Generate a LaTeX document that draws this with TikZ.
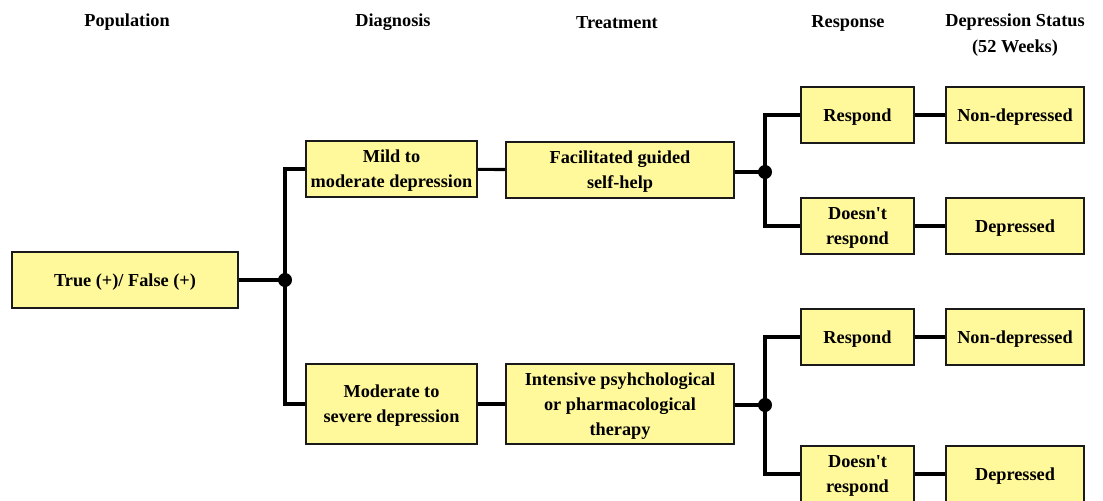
\documentclass[tikz,border=0pt]{standalone}
\usepackage{fontspec}
\setmainfont{Liberation Serif}
\usetikzlibrary{positioning, calc}
\definecolor{boxYellow}{HTML}{FFF99C}
\definecolor{boxLine}{HTML}{1A1A1A}

\tikzset{
  box/.style={draw=boxLine, line width=1.4pt, fill=boxYellow, align=center,
    minimum height=1.4cm, inner sep=2pt, text depth=0pt,
    font=\fontsize{13}{17.8}\selectfont\bfseries},
  popbox/.style={box, minimum width=5.65cm},
  diagbox/.style={box, minimum width=4.275cm},
  treatbox/.style={box, minimum width=5.7cm},
  respbox/.style={box, minimum width=2.825cm},
  statbox/.style={box, minimum width=3.45cm},
  tall/.style={minimum height=2cm},
  head/.style={align=center, font=\fontsize{13}{18.5}\selectfont\bfseries},
  link/.style={line width=2.2pt, draw=black},
  joint/.style={fill=black, circle, inner sep=0pt, minimum size=0.35cm}
}

\begin{document}
\begin{tikzpicture}[x=0.025cm, y=-0.025cm]
  \useasboundingbox (0,0) rectangle (1103,500);
  % titulos de columna
  \node[head] (hPop) at (127,22) {Population};
  \node[head] (hDiag) at (393,22) {Diagnosis};
  \node[head] (hTreat) at (617,23) {Treatment};
  \node[head] (hResp) at (848,23) {Response};
  \node[head] (hStat) at (1015,35) {Depression Status\\(52 Weeks)};
  % poblacion
  \node[popbox] (pop) at (125,280) {True (+)/ False (+)};
  % diagnostico
  \node[diagbox] (mild) at (391.5,169) {Mild to\\moderate depression};
  \node[diagbox, tall] (severe) at (391.5,404) {Moderate to\\severe depression};
  % tratamiento
  \node[treatbox] (guided) at (620,170) {Facilitated guided\\self-help};
  \node[treatbox, tall] (intensive) at (620,404) {Intensive psyhchological\\or pharmacological\\therapy};
  % respuesta
  \node[respbox] (respA) at (857.5,115) {Respond};
  \node[respbox] (noRespA) at (857.5,226) {Doesn\textquotesingle t\\respond};
  \node[respbox] (respB) at (857.5,337) {Respond};
  \node[respbox] (noRespB) at (857.5,474) {Doesn\textquotesingle t\\respond};
  % estado a 52 semanas
  \node[statbox] (nonDepA) at (1015,115) {Non-depressed};
  \node[statbox] (depA) at (1015,226) {Depressed};
  \node[statbox] (nonDepB) at (1015,337) {Non-depressed};
  \node[statbox] (depB) at (1015,474) {Depressed};
  % nudos
  \coordinate (jPop) at (285,280);
  \coordinate (jMild) at (765,172);
  \coordinate (jSevere) at (765,405);
  % conexiones
  \draw[link] (pop) -- (jPop);
  \draw[link] (jPop) |- (mild.west);
  \draw[link] (jPop) |- (severe.west);
  \draw[link] (mild) -- (guided);
  \draw[link] (severe) -- (intensive);
  \draw[link] (guided.east |- jMild) -- (jMild);
  \draw[link] (jMild) |- (respA.west);
  \draw[link] (jMild) |- (noRespA.west);
  \draw[link] (intensive.east |- jSevere) -- (jSevere);
  \draw[link] (jSevere) |- (respB.west);
  \draw[link] (jSevere) |- (noRespB.west);
  \draw[link] (respA) -- (nonDepA);
  \draw[link] (noRespA) -- (depA);
  \draw[link] (respB) -- (nonDepB);
  \draw[link] (noRespB) -- (depB);
  \node[joint] at (jPop) {};
  \node[joint] at (jMild) {};
  \node[joint] at (jSevere) {};
\end{tikzpicture}
\end{document}
